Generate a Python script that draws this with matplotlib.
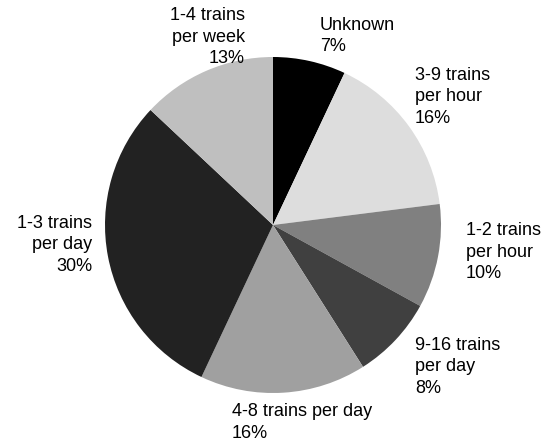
import matplotlib
matplotlib.use("Agg")
import matplotlib.pyplot as plt

# service frequency shares, clockwise from 12 o'clock
labels = ["Unknown", "3-9 trains\nper hour", "1-2 trains\nper hour",
          "9-16 trains\nper day", "4-8 trains per day", "1-3 trains\nper day",
          "1-4 trains\nper week"]
shares = [7, 16, 10, 8, 16, 30, 13]
colors = ["#000000", "#dddddd", "#808080", "#404040", "#a0a0a0", "#222222", "#bfbfbf"]

# where each label block sits (data units, pie radius = 1)
label_pos = [(0.28, 1.125, "left"), (0.845, 0.762, "left"), (1.149, -0.161, "left"),
             (0.845, -0.845, "left"), (-0.244, -1.173, "left"), (-1.077, -0.119, "right"),
             (-0.167, 1.119, "right")]

plt.rcParams['font.family'] = ['Liberation Sans', 'DejaVu Sans']

fig = plt.figure(figsize=(5.56, 4.48), dpi=100)
ax = fig.add_axes([105/556, 55/448, 336/556, 336/448])
ax.pie(shares, colors=colors, startangle=90, counterclock=False,
       wedgeprops=dict(linewidth=0))
ax.set_xlim(-1, 1)
ax.set_ylim(-1, 1)
ax.set_aspect('auto')
ax.axis('off')

for lab, s, (x, y, ha) in zip(labels, shares, label_pos):
    ax.text(x, y, f"{lab}\n{s}%", ha=ha, va='center', multialignment=ha,
            fontsize=13, linespacing=1.38, clip_on=False)

fig.savefig("out.png", dpi=100)
